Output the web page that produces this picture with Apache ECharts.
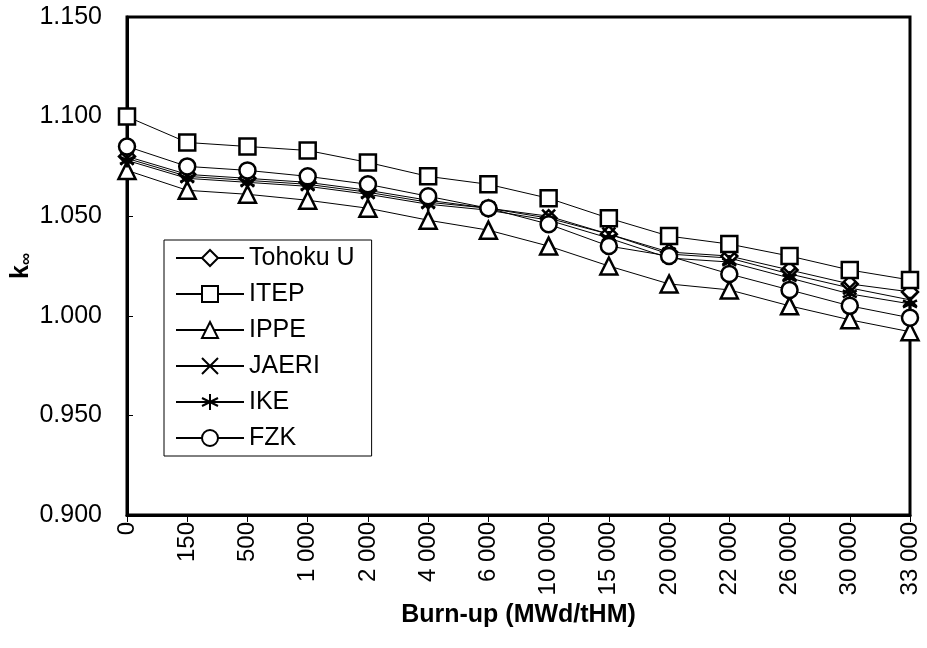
<!DOCTYPE html>
<html>
<head>
<meta charset="utf-8">
<script src="https://cdn.jsdelivr.net/npm/echarts@6/dist/echarts.min.js"></script>
<style>
  html, body { margin: 0; padding: 0; background: #fff; }
  #chart { width: 927px; height: 648px; }
</style>
</head>
<body>
<div id="chart"></div>
<script>
// Burn-up steps (MWd/tHM) used as category labels
const burnup = ['0', '150', '500', '1 000', '2 000', '4 000', '6 000', '10 000',
                '15 000', '20 000', '22 000', '26 000', '30 000', '33 000'];

// k-infinity per participant
const tohokuU = [1.080, 1.071, 1.069, 1.067, 1.063, 1.058, 1.054, 1.049, 1.041, 1.032, 1.030, 1.023, 1.016, 1.012];
const itep    = [1.100, 1.087, 1.085, 1.083, 1.077, 1.070, 1.066, 1.059, 1.049, 1.040, 1.036, 1.030, 1.023, 1.018];
const ippe    = [1.073, 1.063, 1.061, 1.058, 1.054, 1.048, 1.043, 1.035, 1.025, 1.016, 1.013, 1.005, 0.998, 0.992];
const jaeri   = [1.079, 1.070, 1.068, 1.066, 1.062, 1.057, 1.054, 1.050, 1.041, 1.031, 1.029, 1.021, 1.014, 1.008];
const ike     = [1.078, 1.069, 1.067, 1.065, 1.061, 1.056, 1.053, 1.048, 1.039, 1.029, 1.027, 1.019, 1.011, 1.006];
const fzk     = [1.085, 1.075, 1.073, 1.070, 1.066, 1.060, 1.054, 1.046, 1.035, 1.030, 1.021, 1.013, 1.005, 0.999];

// Y axis range
const yMin = 0.900, yMax = 1.150, yStep = 0.050;

const FONT = 'Liberation Sans, Arial, Helvetica, sans-serif';

// Marker shapes: cross and asterisk are stroke-only paths
const CROSS = 'path://M0,0L10,10M10,0L0,10';
const STAR = 'path://M5,0L5,10M0,2.5L10,7.5M0,7.5L10,2.5';

function makeSeries(name, data, symbol, size) {
  return {
    name: name,
    type: 'line',
    data: data,
    symbol: symbol,
    symbolSize: size,
    showAllSymbol: true,
    lineStyle: { color: '#000', width: 1 },
    itemStyle: { color: '#fff', borderColor: '#000', borderWidth: 2.5 },
    emphasis: { disabled: true }
  };
}

const chart = echarts.init(document.getElementById('chart'), null, { renderer: 'canvas' });

chart.setOption({
  animation: false,
  backgroundColor: '#fff',
  textStyle: { fontFamily: FONT, color: '#000' },
  grid: {
    left: 127, right: 17, top: 17, bottom: 133,
    outerBoundsMode: 'none',
    containLabel: false,
    show: true, borderColor: '#000', borderWidth: 3, backgroundColor: 'transparent'
  },
  legend: {
    orient: 'vertical',
    left: 164, top: 240,
    backgroundColor: '#fff',
    borderColor: '#000', borderWidth: 1,
    padding: [5, 17, 5, 11],
    itemWidth: 68, itemHeight: 20, itemGap: 10,
    textStyle: { fontFamily: FONT, fontSize: 25, color: '#000', lineHeight: 26 },
    data: ['Tohoku U', 'ITEP', 'IPPE', 'JAERI', 'IKE', 'FZK']
  },
  xAxis: {
    type: 'category',
    data: burnup,
    boundaryGap: false,
    name: 'Burn-up (MWd/tHM)',
    nameLocation: 'middle',
    nameGap: 88,
    nameMoveOverlap: false,
    nameTextStyle: { fontFamily: FONT, fontSize: 25, fontWeight: 'bold', color: '#000' },
    axisLine: { lineStyle: { color: '#000', width: 3 } },
    axisTick: { show: true, inside: false, length: 7, lineStyle: { color: '#000', width: 1 } },
    axisLabel: { rotate: 90, margin: 7, fontSize: 24, fontFamily: FONT, color: '#000', interval: 0 },
    splitLine: { show: false }
  },
  yAxis: {
    type: 'value',
    min: yMin, max: yMax, interval: yStep,
    name: '{k|k}{s|∞}',
    nameLocation: 'middle',
    nameRotate: 90,
    nameGap: 92,
    nameMoveOverlap: false,
    nameTextStyle: {
      rich: {
        k: { fontFamily: FONT, fontSize: 25, fontWeight: 'bold', color: '#000' },
        s: { fontFamily: FONT, fontSize: 17, fontWeight: 'bold', color: '#000', padding: [10, 0, 0, 0] }
      }
    },
    axisLine: { show: true, lineStyle: { color: '#000', width: 3 } },
    axisTick: { show: true, inside: true, length: 6, lineStyle: { color: '#000', width: 1 } },
    axisLabel: {
      margin: 25, fontSize: 25, fontFamily: FONT, color: '#000',
      formatter: v => v.toFixed(3)
    },
    splitLine: { show: false }
  },
  series: [
    makeSeries('Tohoku U', tohokuU, 'diamond', 16),
    makeSeries('ITEP', itep, 'rect', 16),
    makeSeries('IPPE', ippe, 'triangle', 17),
    makeSeries('JAERI', jaeri, CROSS, 13),
    makeSeries('IKE', ike, STAR, 14),
    makeSeries('FZK', fzk, 'circle', 16)
  ]
});
</script>
</body>
</html>
